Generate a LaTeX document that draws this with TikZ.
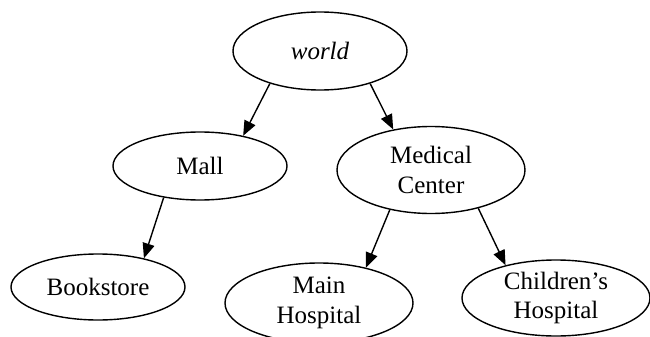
\documentclass[tikz,border=0pt]{standalone}
\usepackage{fontspec}
\setmainfont{Liberation Serif}
\usetikzlibrary{shapes.geometric,arrows.meta}
\tikzset{
  ell/.style={draw, ellipse, line width=1.4pt, inner sep=0pt, align=center,
    font=\fontsize{25}{29.5}\selectfont},
  edge/.style={line width=1.4pt, -{Triangle[length=15pt,width=12pt]}}
}
\begin{document}
\begin{tikzpicture}[x=1pt,y=-1pt]
\useasboundingbox (0,0) rectangle (650,337);
\node[ell, minimum width=174pt, minimum height=78pt] (world) at (320,51) {\itshape world};
\node[ell, minimum width=174pt, minimum height=68pt] (mall) at (200,166) {Mall};
\node[ell, minimum width=188pt, minimum height=87pt] (med) at (431,170) {Medical\\Center};
\node[ell, minimum width=174pt, minimum height=66pt] (book) at (98,287) {Bookstore};
\node[ell, minimum width=188pt, minimum height=80pt] (main) at (319,303) {Main\\Hospital};
\node[ell, minimum width=188pt, minimum height=76pt] (child) at (556,298) {Children’s\\Hospital};
\draw[edge] (world.213) -- (mall.35);
\draw[edge] (world.327) -- (med.133);
\draw[edge] (mall.221) -- (book.32);
\draw[edge] (med.224) -- (main.37);
\draw[edge] (med.321) -- (child.147);
\end{tikzpicture}
\end{document}
